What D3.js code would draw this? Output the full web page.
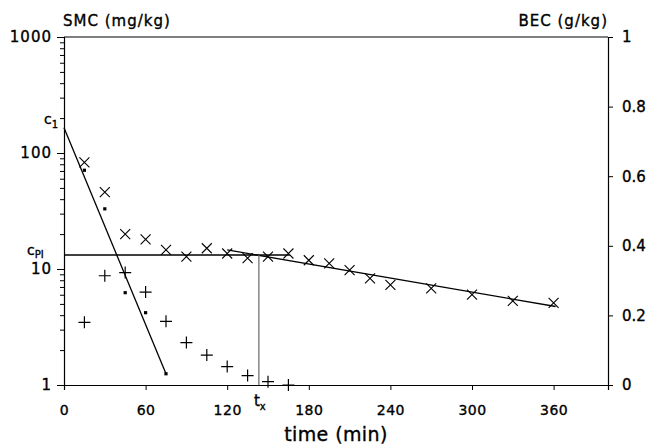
<!DOCTYPE html>
<html>
<head>
<meta charset="utf-8">
<script src="https://cdn.jsdelivr.net/npm/d3@7"></script>
<style>
  body { margin: 0; background: #fff; }
  svg text { font-family: "DejaVu Sans", sans-serif; fill: #000; stroke: #000; stroke-width: 0.35px; }
</style>
</head>
<body>
<div id="chart"></div>
<script>
// SMC (log axis, left) crosses
const timeX = [15, 30, 45, 60, 75, 90, 105, 120, 135, 150, 165, 180, 195, 210, 225, 240, 270, 300, 330, 360];
const smcX = [83, 46, 20, 18, 14.6, 12.8, 15.1, 13.6, 12.4, 12.8, 13.6, 11.9, 11.2, 9.8, 8.3, 7.3, 6.8, 6.0, 5.3, 5.1];
// SMC dots (early phase)
const timeDot = [15, 30, 45, 60, 75];
const smcDot = [71, 33, 6.25, 4.2, 1.25];
// BEC (linear axis, right) pluses
const timePlus = [15, 30, 45, 60, 75, 90, 105, 120, 135, 150, 165];
const bec = [0.18, 0.314, 0.323, 0.267, 0.183, 0.122, 0.086, 0.053, 0.027, 0.0095, 0.0];
// fitted lines
const fit1 = [[0, 165], [75, 1.25]];
const cPI = 13.2;
const cPIEnd = 166;
const fit2 = [[120, 14.6], [361.5, 4.75]];
const tx = 143.3;

const xTicks = [0, 60, 120, 180, 240, 300, 360];
const yTicks = [1, 10, 100, 1000];
const yRTicks = [0, 0.2, 0.4, 0.6, 0.8, 1];

const W = 650, H = 444;
const svg = d3.select("#chart").append("svg")
  .attr("width", W).attr("height", H);

const x = d3.scaleLinear().domain([0, 400]).range([64, 608]);
const y = d3.scaleLog().domain([1, 1000]).range([385, 37]);
const yR = d3.scaleLinear().domain([0, 1]).range([385, 37]);

// minor log ticks
const minor = [];
[1, 10, 100].forEach(d => { for (let k = 2; k <= 9; k++) minor.push(d * k); });

svg.append("g")
  .attr("transform", "translate(64,0)")
  .call(d3.axisLeft(y).tickValues(minor).tickSize(4).tickFormat(""))
  .call(g => g.select(".domain").remove());

const gl = svg.append("g")
  .attr("transform", "translate(64,0)")
  .call(d3.axisLeft(y).tickValues(yTicks).tickSize(7).tickPadding(5).tickFormat(d3.format("d")));
gl.selectAll("text").style("font-size", "15px").style("letter-spacing", "1px");

const gr = svg.append("g")
  .attr("transform", "translate(608,0)")
  .call(d3.axisRight(yR).tickValues(yRTicks).tickSize(5).tickPadding(9).tickFormat(d => d === 0 || d === 1 ? d : d.toFixed(1)));
gr.selectAll("text").style("font-size", "15px");

const gb = svg.append("g")
  .attr("transform", "translate(0,385)")
  .call(d3.axisBottom(x).tickValues(xTicks).tickSize(5).tickPadding(15).tickFormat(d3.format("d")));
gb.selectAll("text").style("font-size", "14px").style("letter-spacing", "0.5px");

svg.selectAll(".domain").attr("stroke", "#000").attr("stroke-width", 1.2);
svg.selectAll(".tick line").attr("stroke", "#000");

// top frame line
svg.append("line")
  .attr("x1", x(0)).attr("x2", x(400))
  .attr("y1", y(1000)).attr("y2", y(1000))
  .attr("stroke", "#000").attr("stroke-width", 1.2);

// axis titles
svg.append("text").attr("x", 63).attr("y", 26)
  .style("font-size", "15px").style("letter-spacing", "1px")
  .text("SMC (mg/kg)");
svg.append("text").attr("x", 608).attr("y", 26).attr("text-anchor", "end")
  .style("font-size", "15px").style("letter-spacing", "1px")
  .text("BEC (g/kg)");
svg.append("text").attr("x", 336).attr("y", 441).attr("text-anchor", "middle")
  .style("font-size", "19px").style("letter-spacing", "0.4px")
  .text("time (min)");

// c1, cPI, tx labels
const c1 = svg.append("text").attr("x", 44).attr("y", 124).style("font-size", "14px");
c1.append("tspan").text("c");
c1.append("tspan").attr("dy", 4).style("font-size", "10px").text("1");
const cp = svg.append("text").attr("x", 27).attr("y", 255).style("font-size", "14px");
cp.append("tspan").text("c");
cp.append("tspan").attr("dy", 3).style("font-size", "10px").text("PI");
const tl = svg.append("text").attr("x", x(tx) - 5).attr("y", 406).style("font-size", "15px");
tl.append("tspan").text("t");
tl.append("tspan").attr("dy", 4).style("font-size", "10px").text("x");

// lines
const line = d3.line().x(d => x(d[0])).y(d => y(d[1]));
svg.append("path").datum(fit1).attr("d", line)
  .attr("fill", "none").attr("stroke", "#000").attr("stroke-width", 1.3);
svg.append("path").datum([[0, cPI], [cPIEnd, cPI]]).attr("d", line)
  .attr("fill", "none").attr("stroke", "#000").attr("stroke-width", 1.3);
svg.append("path").datum(fit2).attr("d", line)
  .attr("fill", "none").attr("stroke", "#000").attr("stroke-width", 1.3);
svg.append("path").datum([[tx, 1], [tx, cPI]]).attr("d", line)
  .attr("fill", "none").attr("stroke", "#666").attr("stroke-width", 1.2);

// crosses
const xs = 5;
const crossData = timeX.map((t, i) => [t, smcX[i]]);
svg.append("g").selectAll("path").data(crossData).join("path")
  .attr("d", d => {
    const cx = x(d[0]), cy = y(d[1]);
    return `M${cx - xs},${cy - xs}L${cx + xs},${cy + xs}M${cx - xs},${cy + xs}L${cx + xs},${cy - xs}`;
  })
  .attr("stroke", "#000").attr("stroke-width", 1.1).attr("fill", "none");

// dots
svg.append("g").selectAll("rect").data(timeDot.map((t, i) => [t, smcDot[i]])).join("rect")
  .attr("x", d => x(d[0]) - 1.6).attr("y", d => y(d[1]) - 1.6)
  .attr("width", 3.2).attr("height", 3.2).attr("fill", "#000");

// pluses
const ps = 6;
svg.append("g").selectAll("path").data(timePlus.map((t, i) => [t, bec[i]])).join("path")
  .attr("d", d => {
    const cx = x(d[0]), cy = yR(d[1]);
    return `M${cx - ps},${cy}L${cx + ps},${cy}M${cx},${cy - ps}L${cx},${cy + ps}`;
  })
  .attr("stroke", "#000").attr("stroke-width", 1.2).attr("fill", "none");
</script>
</body>
</html>
